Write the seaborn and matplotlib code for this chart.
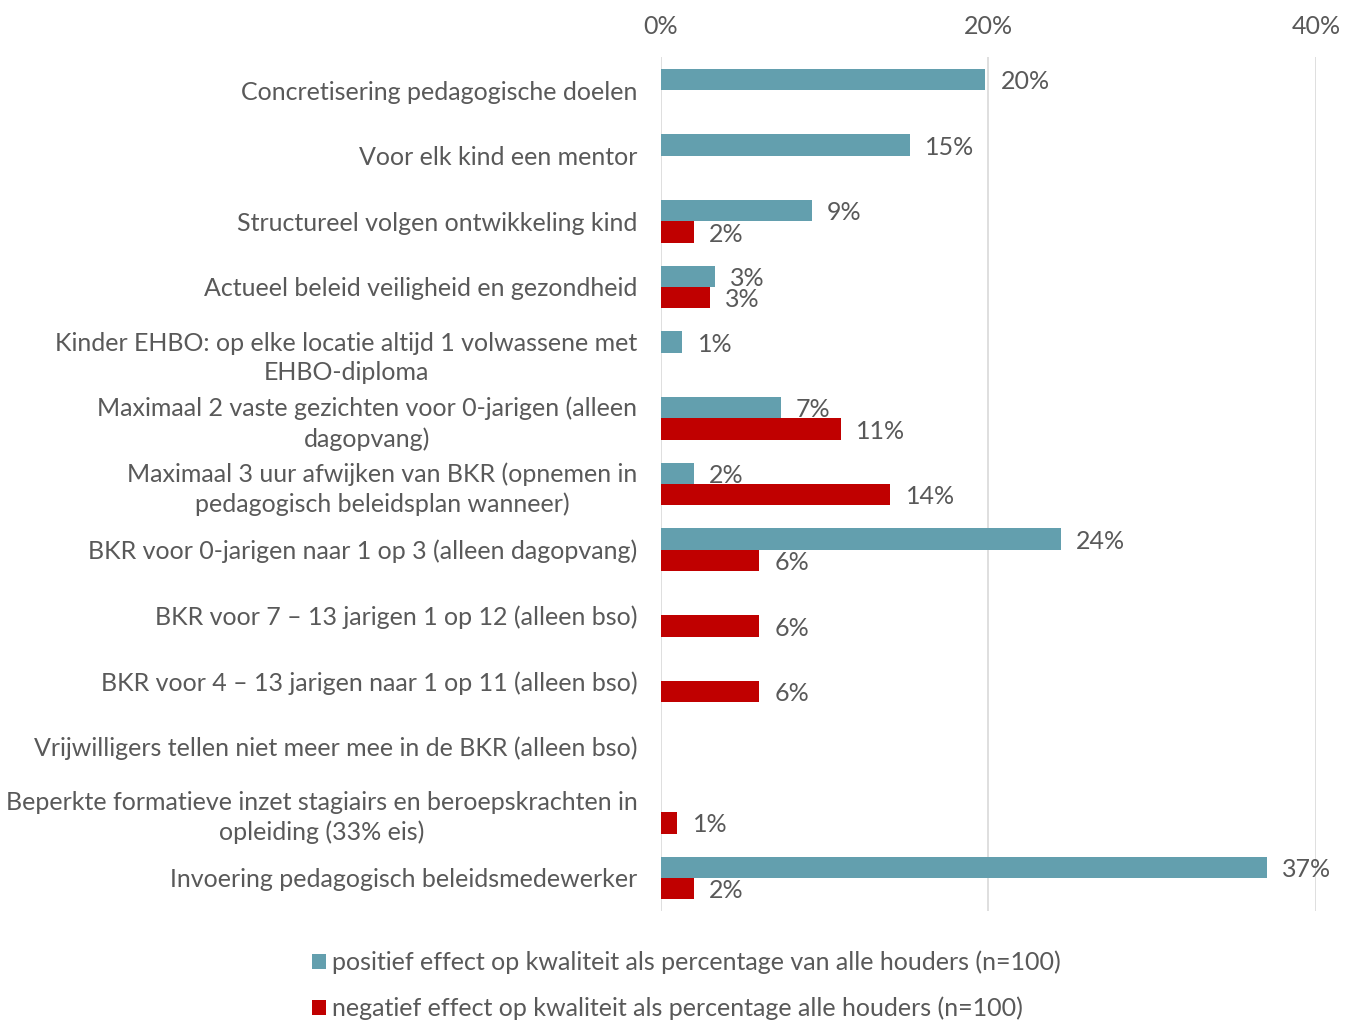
import numpy as np
import pandas as pd
import matplotlib.pyplot as plt
import seaborn as sns

plt.switch_backend('Agg')

# categorieën (van boven naar beneden)
categories = [
    "Concretisering pedagogische doelen",
    "Voor elk kind een mentor",
    "Structureel volgen ontwikkeling kind",
    "Actueel beleid veiligheid en gezondheid",
    "Kinder EHBO: op elke locatie altijd 1 volwassene met\nEHBO-diploma",
    "Maximaal 2 vaste gezichten voor 0-jarigen (alleen\ndagopvang)",
    "Maximaal 3 uur afwijken van BKR (opnemen in\npedagogisch beleidsplan wanneer)",
    "BKR voor 0-jarigen naar 1 op 3 (alleen dagopvang)",
    "BKR voor 7 \u2013 13 jarigen 1 op 12 (alleen bso)",
    "BKR voor 4 \u2013 13 jarigen naar 1 op 11 (alleen bso)",
    "Vrijwilligers tellen niet meer mee in de BKR (alleen bso)",
    "Beperkte formatieve inzet stagiairs en beroepskrachten in\nopleiding (33% eis)",
    "Invoering pedagogisch beleidsmedewerker",
]

# waarden in procenten (NaN = geen balk)
positief = [19.8, 15.2, 9.2, 3.3, 1.3, 7.3, 2.0, 24.4, np.nan, np.nan, np.nan, np.nan, 37]
negatief = [np.nan, np.nan, 2.0, 3.0, np.nan, 11.0, 14.0, 6.0, 6.0, 6.0, np.nan, 1.0, 2.0]

series_names = [
    "positief effect op kwaliteit als percentage van alle houders (n=100)",
    "negatief effect op kwaliteit als percentage alle houders (n=100)",
]
colors = ["#639fae", "#c00000"]

df = pd.DataFrame({
    "categorie": categories * 2,
    "waarde": positief + negatief,
    "reeks": [series_names[0]] * len(categories) + [series_names[1]] * len(categories),
}).dropna()

text_color = "#595959"
fs = 18
plt.rcParams['font.family'] = ['Lato', 'DejaVu Sans']

fig, ax = plt.subplots(figsize=(13.47, 10.21), dpi=100)
fig.subplots_adjust(left=0.4907, right=0.977, top=0.944, bottom=0.108)

sns.barplot(data=df, y="categorie", x="waarde", hue="reeks", order=categories,
            hue_order=series_names, palette=colors, orient="h", width=0.65,
            saturation=1, errorbar=None, ax=ax)

for container in ax.containers:
    anns = ax.bar_label(container, fmt='{:.0f}%', padding=11, fontsize=fs, color=text_color)
    for a in anns:
        a.xyann = (11, -1.5)

ax.set_xlim(0, 40)
ax.set_xticks([0, 20, 40])
ax.set_xticklabels(["0%", "20%", "40%"])
ax.xaxis.tick_top()
ax.tick_params(axis='x', length=0, pad=14, labelsize=fs, labelcolor=text_color)
ax.tick_params(axis='y', length=0, pad=17, labelsize=fs, labelcolor=text_color)
for lbl in ax.get_yticklabels():
    lbl.set_multialignment('center')
    lbl.set_linespacing(1.35)

ax.grid(axis='x', color='#d9d9d9', linewidth=1.2)
ax.grid(axis='y', visible=False)
ax.set_axisbelow(True)
for s in ax.spines.values():
    s.set_visible(False)
ax.set_xlabel("")
ax.set_ylabel("")

handles, labels = ax.get_legend_handles_labels()
ax.get_legend().remove()
leg = fig.legend(handles, labels, loc='upper left', bbox_to_anchor=(0.2316, 0.069),
                 frameon=False, fontsize=fs, handlelength=0.55, handleheight=0.55,
                 handletextpad=0.25, labelspacing=0.9, borderpad=0, borderaxespad=0)
for t in leg.get_texts():
    t.set_color(text_color)

plt.savefig("out.png", dpi=100)
